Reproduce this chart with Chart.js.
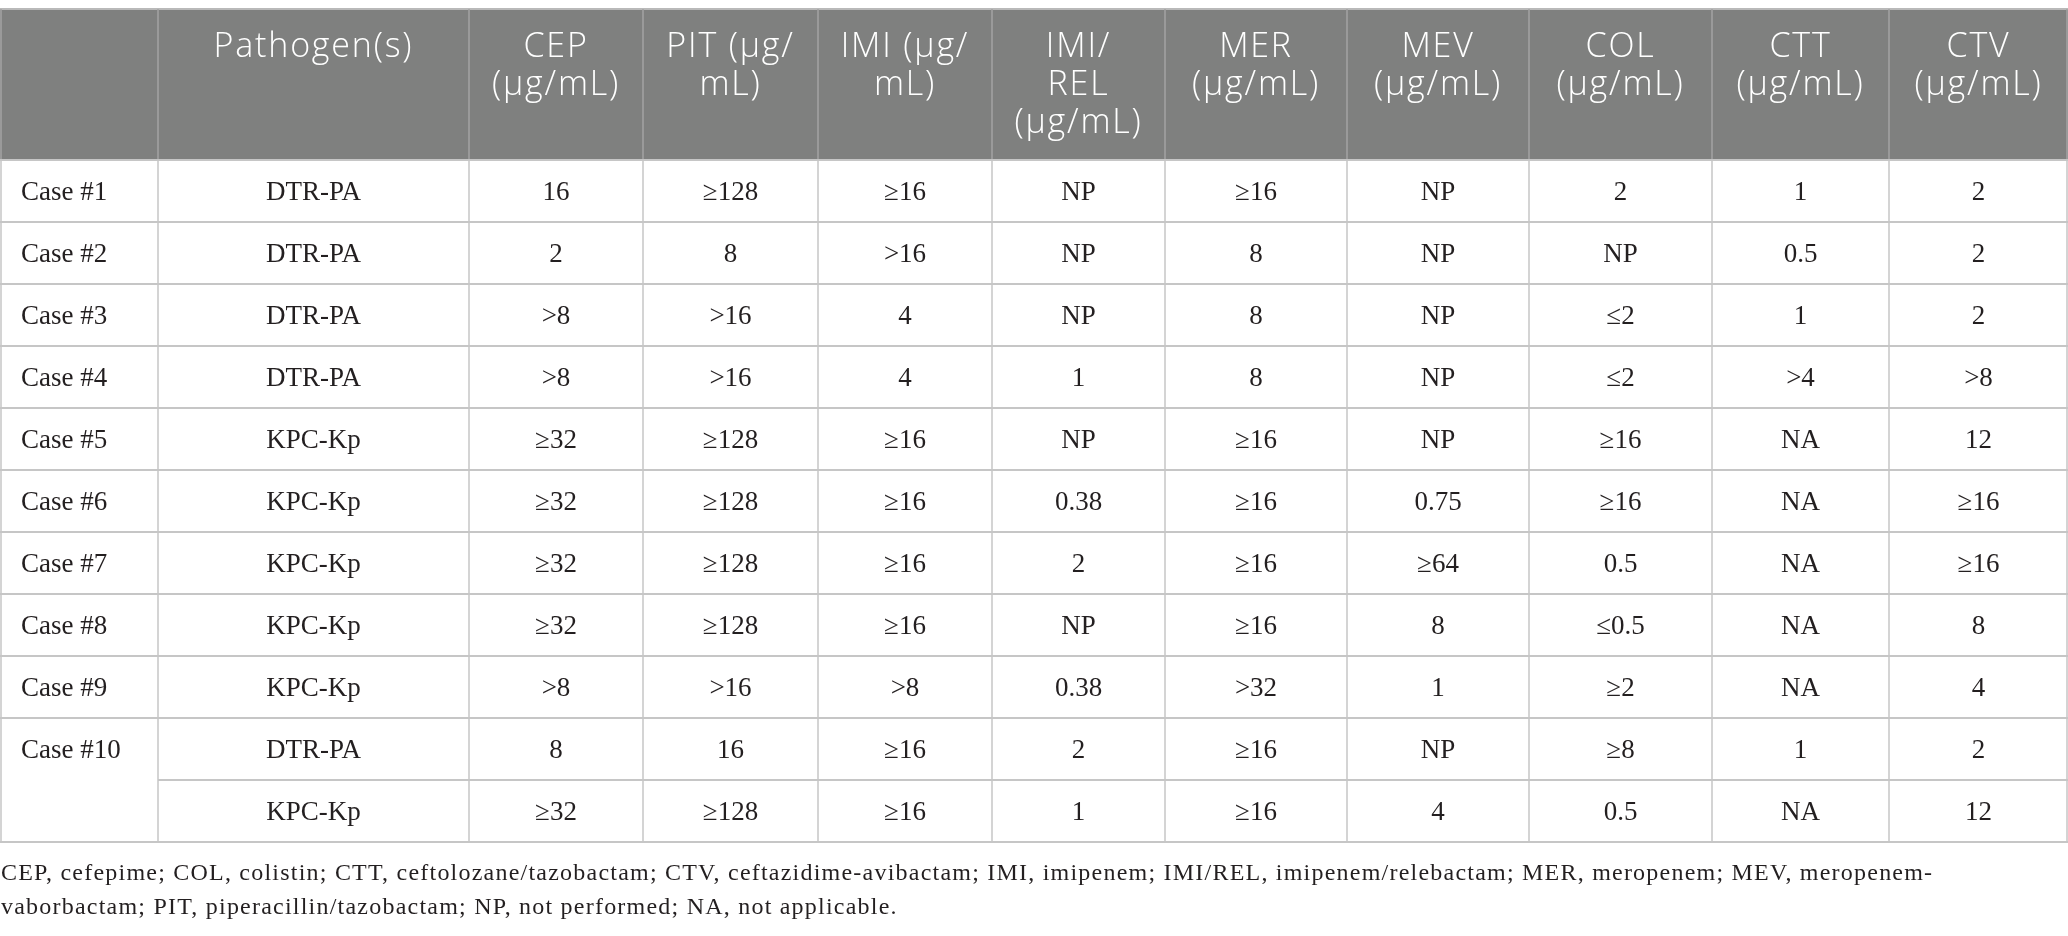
<!DOCTYPE html>
<html>
<head>
<meta charset="utf-8">
<title>MIC table</title>
<script src="https://cdn.jsdelivr.net/npm/chart.js@4.4.1/dist/chart.umd.min.js"></script>
<style>
    html, body { margin: 0; padding: 0; background: #ffffff; }
    #wrap { position: relative; width: 2068px; height: 936px; }
</style>
</head>
<body>
<div id="wrap"><canvas id="micChart"></canvas></div>
<script>
// Table content
const headers = [
    [""],
    ["Pathogen(s)"],
    ["CEP", "(µg/mL)"],
    ["PIT (µg/", "mL)"],
    ["IMI (µg/", "mL)"],
    ["IMI/", "REL", "(µg/mL)"],
    ["MER", "(µg/mL)"],
    ["MEV", "(µg/mL)"],
    ["COL", "(µg/mL)"],
    ["CTT", "(µg/mL)"],
    ["CTV", "(µg/mL)"]
];
const cases = ["Case #1", "Case #2", "Case #3", "Case #4", "Case #5", "Case #6",
    "Case #7", "Case #8", "Case #9", "Case #10", ""];
const pathogens = ["DTR-PA", "DTR-PA", "DTR-PA", "DTR-PA", "KPC-Kp", "KPC-Kp",
    "KPC-Kp", "KPC-Kp", "KPC-Kp", "DTR-PA", "KPC-Kp"];
const CEP = ["16", "2", ">8", ">8", "≥32", "≥32", "≥32", "≥32", ">8", "8", "≥32"];
const PIT = ["≥128", "8", ">16", ">16", "≥128", "≥128", "≥128", "≥128", ">16", "16", "≥128"];
const IMI = ["≥16", ">16", "4", "4", "≥16", "≥16", "≥16", "≥16", ">8", "≥16", "≥16"];
const IMI_REL = ["NP", "NP", "NP", "1", "NP", "0.38", "2", "NP", "0.38", "2", "1"];
const MER = ["≥16", "8", "8", "8", "≥16", "≥16", "≥16", "≥16", ">32", "≥16", "≥16"];
const MEV = ["NP", "NP", "NP", "NP", "NP", "0.75", "≥64", "8", "1", "NP", "4"];
const COL = ["2", "NP", "≤2", "≤2", "≥16", "≥16", "0.5", "≤0.5", "≥2", "≥8", "0.5"];
const CTT = ["1", "0.5", "1", ">4", "NA", "NA", "NA", "NA", "NA", "1", "NA"];
const CTV = ["2", "2", "2", ">8", "12", "≥16", "≥16", "8", "4", "2", "12"];
const footnotes = [
    "CEP, cefepime; COL, colistin; CTT, ceftolozane/tazobactam; CTV, ceftazidime-avibactam; IMI, imipenem; IMI/REL, imipenem/relebactam; MER, meropenem; MEV, meropenem-",
    "vaborbactam; PIT, piperacillin/tazobactam; NP, not performed; NA, not applicable."
];

// Layout (not data)
const COL_WIDTHS = [158, 311, 174, 175, 174, 173, 182, 182, 183, 177, 179];
const HEADER_TOP = 9;
const HEADER_BOTTOM = 160;
const TABLE_BOTTOM = 842;

const columns = [cases, pathogens, CEP, PIT, IMI, IMI_REL, MER, MEV, COL, CTT, CTV];
const rowKeys = cases.map((c, i) => "r" + i);
const colEdges = [0];
COL_WIDTHS.forEach(w => colEdges.push(colEdges[colEdges.length - 1] + w));
const totalWidth = colEdges[colEdges.length - 1];

const tablePlugin = {
    id: "micTable",
    beforeDraw(chart) {
        const { ctx, chartArea } = chart;
        const x = chart.scales.x;
        const y = chart.scales.y;
        const left = x.getPixelForValue(0);
        const right = x.getPixelForValue(totalWidth);
        const rowH = y.getPixelForValue(1) - y.getPixelForValue(0);
        const top = chartArea.top;
        const bottom = chartArea.bottom;

        ctx.save();

        // header band
        ctx.fillStyle = "#7f807f";
        ctx.fillRect(left, HEADER_TOP, right - left, top - HEADER_TOP);
        ctx.strokeStyle = "#b9b9b9";
        ctx.lineWidth = 2;
        ctx.beginPath();
        ctx.moveTo(left, HEADER_TOP);
        ctx.lineTo(right, HEADER_TOP);
        ctx.stroke();

        // header separators
        ctx.strokeStyle = "#a3a3a3";
        ctx.lineWidth = 1.5;
        colEdges.forEach(e => {
            const px = Math.min(Math.max(x.getPixelForValue(e), left + 1), right - 1);
            ctx.beginPath();
            ctx.moveTo(px, HEADER_TOP);
            ctx.lineTo(px, top);
            ctx.stroke();
        });

        // header text
        ctx.fillStyle = "#ffffff";
        ctx.font = "300 34px 'Open Sans'";
        ctx.letterSpacing = "1.8px";
        ctx.textAlign = "center";
        ctx.textBaseline = "alphabetic";
        headers.forEach((lines, c) => {
            const cx = x.getPixelForValue((colEdges[c] + colEdges[c + 1]) / 2);
            lines.forEach((t, k) => ctx.fillText(t, cx, HEADER_TOP + 48 + k * 38));
        });
        ctx.letterSpacing = "0px";

        // body horizontal rules
        ctx.strokeStyle = "#c6c6c6";
        ctx.lineWidth = 2;
        for (let r = 0; r <= rowKeys.length; r++) {
            const py = y.getPixelForValue(r) - rowH / 2;
            // merged first cell of Case #10
            const startX = (r === rowKeys.length - 1) ? x.getPixelForValue(colEdges[1]) : left;
            ctx.beginPath();
            ctx.moveTo(startX, py);
            ctx.lineTo(right, py);
            ctx.stroke();
        }

        // body vertical rules
        ctx.lineWidth = 1.5;
        colEdges.forEach(e => {
            const px = Math.min(Math.max(x.getPixelForValue(e), left + 1), right - 1);
            ctx.beginPath();
            ctx.moveTo(px, top);
            ctx.lineTo(px, bottom);
            ctx.stroke();
        });

        // body text
        ctx.fillStyle = "#231f20";
        ctx.font = "27px 'Liberation Serif'";
        columns.forEach((vals, c) => {
            vals.forEach((v, r) => {
                if (!v) return;
                const cy = y.getPixelForValue(r) + 9;
                if (c === 0) {
                    ctx.textAlign = "left";
                    ctx.fillText(v, x.getPixelForValue(colEdges[0]) + 21, cy);
                } else {
                    ctx.textAlign = "center";
                    ctx.fillText(v, x.getPixelForValue((colEdges[c] + colEdges[c + 1]) / 2), cy);
                }
            });
        });

        // footnote
        ctx.textAlign = "left";
        ctx.font = "24px 'Liberation Serif'";
        const natural = ctx.measureText(footnotes[0]).width;
        const spacing = Math.max(0, (1932 - natural) / footnotes[0].length);
        ctx.letterSpacing = spacing.toFixed(2) + "px";
        footnotes.forEach((t, k) => ctx.fillText(t, left + 1, bottom + 38 + k * 34));

        ctx.restore();
    }
};

const ctx = document.getElementById("micChart").getContext("2d");
const micChart = new Chart(ctx, {
    type: "bar",
    data: {
        labels: rowKeys,
        datasets: []
    },
    options: {
        responsive: true,
        maintainAspectRatio: false,
        animation: false,
        layout: {
            padding: { top: HEADER_BOTTOM, bottom: 936 - TABLE_BOTTOM, left: 0, right: 0 }
        },
        plugins: {
            legend: { display: false },
            tooltip: { enabled: false }
        },
        scales: {
            x: { type: "linear", min: 0, max: totalWidth, offset: false, display: false },
            y: { type: "category", labels: rowKeys, offset: true, display: false }
        }
    },
    plugins: [tablePlugin]
});
</script>
</body>
</html>
